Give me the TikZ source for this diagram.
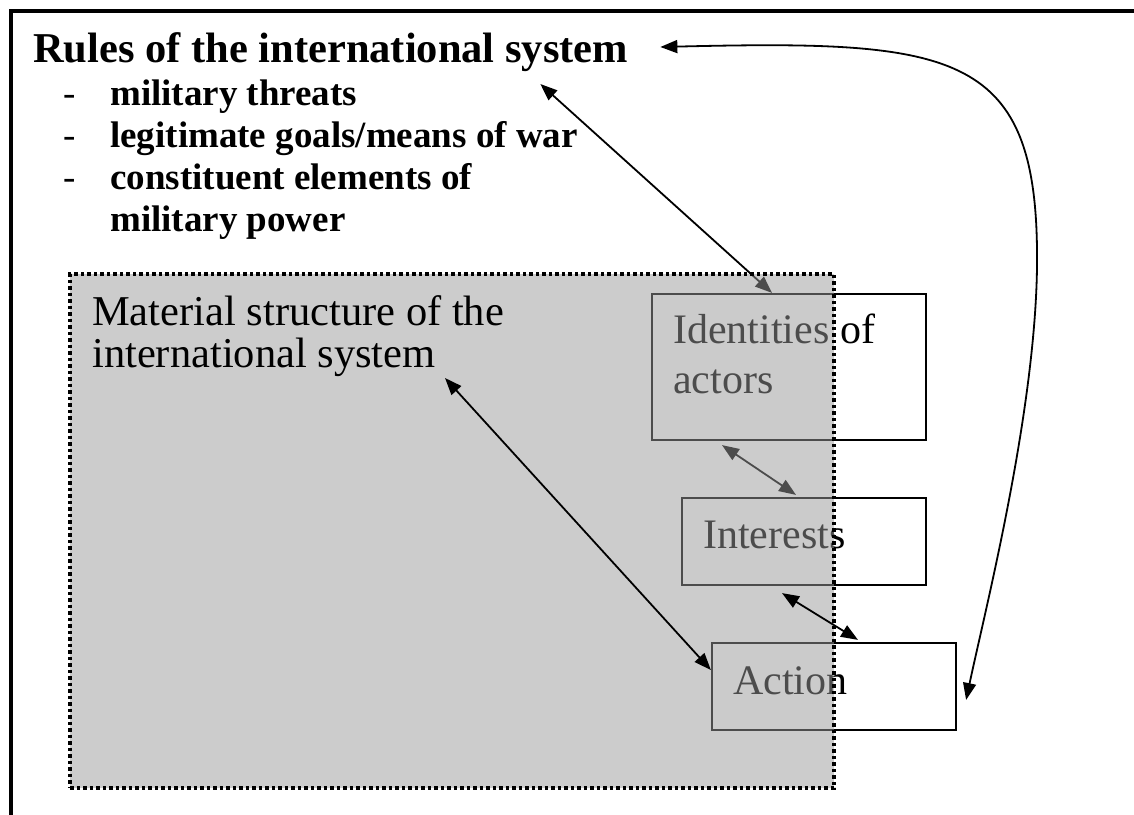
\documentclass[tikz,border=0pt]{standalone}
\usepackage{fontspec}
\setmainfont{Liberation Serif}
\usetikzlibrary{arrows.meta,calc}
\begin{document}
\begin{tikzpicture}[x=1pt,y=-1pt,
  boxed/.style={draw,line width=2.2pt,fill=white,inner sep=0pt},
  txt/.style={inner sep=0pt,anchor=base west},
  link/.style={line width=1.8pt,{Triangle[length=17pt,width=13pt]}-{Triangle[length=17pt,width=13pt]}},
  shade/.style={fill=black!40,fill opacity=0.5,draw=black,line width=3.5pt,
    dash pattern=on 3.5pt off 3pt,inner sep=0pt}]
\useasboundingbox (0,0) rectangle (1134,814);

% outer frame (open to the right and bottom)
\draw[line width=4pt] (11,820) -- (11,11) -- (1140,11);

% actor boxes
\node[boxed,minimum width=274pt,minimum height=146pt] (identbox) at (789,367) {};
\node[boxed,minimum width=244pt,minimum height=87pt] (intbox) at (804,541.5) {};
\node[boxed,minimum width=244pt,minimum height=87pt] (actbox) at (834,686.5) {};
\node[txt] (identtxt) at (673,343)
  {\parbox[t]{250pt}{\fontsize{42}{50}\selectfont Identities of\\actors}};
\node[txt,font=\fontsize{42}{42}\selectfont] (inttxt) at (703,548) {Interests};
\node[txt,font=\fontsize{42}{42}\selectfont] (acttxt) at (733,694) {Action};

% title and rules
\node[txt,font=\fontsize{42.5}{42}\selectfont\bfseries] (title) at (33,62)
  {Rules of the international system};
\node[txt] (rules) at (63,105)
  {\fontsize{37}{42}\selectfont\bfseries
   \begin{tabular}[t]{@{}p{47pt}@{}l@{}}
   {\mdseries -}&military threats\\
   {\mdseries -}&legitimate goals/means of war\\
   {\mdseries -}&constituent elements of\\
   &military power
   \end{tabular}};

% links passing under the material structure
\draw[link] ([xshift=-88pt,yshift=-22pt]title.base east) -- ([xshift=-17pt]identbox.north);
\draw[link] ([xshift=-67pt,yshift=-4pt]identbox.south) -- ([xshift=-8pt,yshift=2pt]intbox.north);

% material structure region
\node[shade,minimum width=764pt,minimum height=514pt] (material) at (452,531) {};
\node[txt] (mat) at (92,325)
  {\parbox[t]{430pt}{\fontsize{42.5}{42}\selectfont Material structure of the\\international system}};

% links drawn above it
\draw[link] ([xshift=-22pt,yshift=-7pt]intbox.south) -- ([xshift=24pt,yshift=2pt]actbox.north);
\draw[link] ([xshift=353pt,yshift=-53pt]mat.base west) -- ([yshift=16.5pt]actbox.west);
\draw[link] ([xshift=32pt,yshift=15pt]title.base east)
  .. controls (950,40) and (1035,50) .. (1037,250)
  .. controls (1039,400) and (985,610) .. ([xshift=9pt,yshift=-13.5pt]actbox.east);
\end{tikzpicture}
\end{document}
